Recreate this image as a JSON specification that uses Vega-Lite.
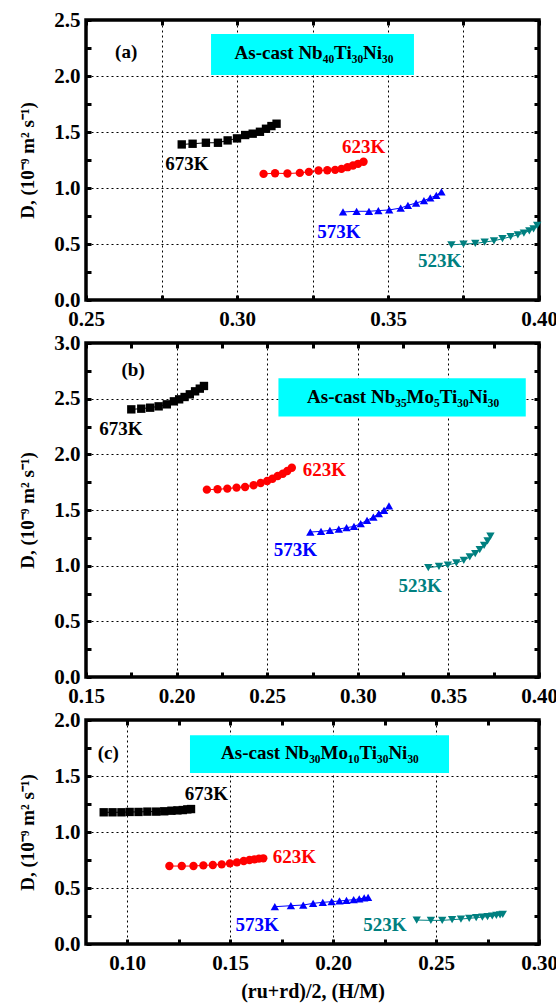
{
"$schema": "https://vega.github.io/schema/vega-lite/v6.json",
"padding": {"left": 17, "top": 7, "right": 0, "bottom": 0},
"autosize": {"type": "pad"},
"background": "white",
"config": {
  "font": "Liberation Serif",
  "view": {"stroke": "black", "strokeWidth": 3.5},
  "axis": {"domain": false, "offset": -5, "tickColor": "black", "tickWidth": 3, "tickSize": 5, "grid": false, "labelFont": "Liberation Serif", "labelFontWeight": "bold", "labelFontSize": 21, "labelColor": "black", "titleFont": "Liberation Serif", "titleFontWeight": "bold", "titleFontSize": 19, "titleColor": "black", "gridColor": "black", "gridDash": [2, 3], "gridWidth": 1, "labelOverlap": false, "labelFlush": false},
  "axisX": {"labelPadding": 8},
  "axisY": {"labelPadding": 6}
},
"datasets": {
  "a": [
    {"T":"673K","x":0.2817,"D":1.389},{"T":"673K","x":0.2853,"D":1.395},{"T":"673K","x":0.2897,"D":1.404},{"T":"673K","x":0.2937,"D":1.404},{"T":"673K","x":0.2969,"D":1.425},{"T":"673K","x":0.3000,"D":1.443},{"T":"673K","x":0.3027,"D":1.473},{"T":"673K","x":0.3052,"D":1.485},{"T":"673K","x":0.3076,"D":1.502},{"T":"673K","x":0.3096,"D":1.529},{"T":"673K","x":0.3114,"D":1.553},{"T":"673K","x":0.3131,"D":1.574},
    {"T":"623K","x":0.3088,"D":1.126},{"T":"623K","x":0.3126,"D":1.132},{"T":"623K","x":0.3167,"D":1.129},{"T":"623K","x":0.3208,"D":1.135},{"T":"623K","x":0.3238,"D":1.144},{"T":"623K","x":0.3270,"D":1.156},{"T":"623K","x":0.3299,"D":1.159},{"T":"623K","x":0.3325,"D":1.162},{"T":"623K","x":0.3346,"D":1.171},{"T":"623K","x":0.3366,"D":1.186},{"T":"623K","x":0.3384,"D":1.201},{"T":"623K","x":0.3401,"D":1.216},{"T":"623K","x":0.3419,"D":1.234},
    {"T":"573K","x":0.3351,"D":0.786},{"T":"573K","x":0.3396,"D":0.792},{"T":"573K","x":0.3437,"D":0.792},{"T":"573K","x":0.3468,"D":0.798},{"T":"573K","x":0.3504,"D":0.804},{"T":"573K","x":0.3542,"D":0.821},{"T":"573K","x":0.3566,"D":0.845},{"T":"573K","x":0.3593,"D":0.866},{"T":"573K","x":0.3619,"D":0.887},{"T":"573K","x":0.3640,"D":0.911},{"T":"573K","x":0.3660,"D":0.935},{"T":"573K","x":0.3677,"D":0.965},
    {"T":"523K","x":0.3710,"D":0.493},{"T":"523K","x":0.3750,"D":0.499},{"T":"523K","x":0.3789,"D":0.505},{"T":"523K","x":0.3820,"D":0.517},{"T":"523K","x":0.3851,"D":0.529},{"T":"523K","x":0.3879,"D":0.547},{"T":"523K","x":0.3906,"D":0.565},{"T":"523K","x":0.3930,"D":0.582},{"T":"523K","x":0.3950,"D":0.597},{"T":"523K","x":0.3968,"D":0.618},{"T":"523K","x":0.3982,"D":0.636},{"T":"523K","x":0.3994,"D":0.666}
  ],
  "a_lab": [
    {"T":"673K","x":0.2834,"D":1.21},{"T":"623K","x":0.3419,"D":1.368},{"T":"573K","x":0.3337,"D":0.606},{"T":"523K","x":0.3671,"D":0.349}
  ],
  "a_note": [{"text":"(a)","x":0.2633,"D":2.214}],
  "a_box": [{"label":"As-cast Nb₄₀Ti₃₀Ni₃₀","x":0.2914,"x2":0.3586,"D":2.375,"D2":2.009,"tx":0.3255,"ty":2.152}],
  "b": [
    {"T":"673K","x":0.1750,"D":2.404},{"T":"673K","x":0.1805,"D":2.410},{"T":"673K","x":0.1854,"D":2.419},{"T":"673K","x":0.1901,"D":2.431},{"T":"673K","x":0.1946,"D":2.449},{"T":"673K","x":0.1985,"D":2.476},{"T":"673K","x":0.2014,"D":2.494},{"T":"673K","x":0.2044,"D":2.515},{"T":"673K","x":0.2073,"D":2.539},{"T":"673K","x":0.2102,"D":2.566},{"T":"673K","x":0.2128,"D":2.590},{"T":"673K","x":0.2151,"D":2.614},
    {"T":"623K","x":0.2167,"D":1.683},{"T":"623K","x":0.2226,"D":1.686},{"T":"623K","x":0.2280,"D":1.692},{"T":"623K","x":0.2331,"D":1.701},{"T":"623K","x":0.2378,"D":1.707},{"T":"623K","x":0.2425,"D":1.722},{"T":"623K","x":0.2464,"D":1.743},{"T":"623K","x":0.2500,"D":1.761},{"T":"623K","x":0.2529,"D":1.781},{"T":"623K","x":0.2558,"D":1.805},{"T":"623K","x":0.2586,"D":1.826},{"T":"623K","x":0.2611,"D":1.850},{"T":"623K","x":0.2636,"D":1.880},
    {"T":"573K","x":0.2738,"D":1.302},{"T":"573K","x":0.2797,"D":1.308},{"T":"573K","x":0.2846,"D":1.317},{"T":"573K","x":0.2895,"D":1.329},{"T":"573K","x":0.2938,"D":1.341},{"T":"573K","x":0.2979,"D":1.353},{"T":"573K","x":0.3016,"D":1.377},{"T":"573K","x":0.3051,"D":1.407},{"T":"573K","x":0.3086,"D":1.437},{"T":"573K","x":0.3116,"D":1.467},{"T":"573K","x":0.3145,"D":1.497},{"T":"573K","x":0.3172,"D":1.536},
    {"T":"523K","x":0.3389,"D":0.982},{"T":"523K","x":0.3448,"D":0.994},{"T":"523K","x":0.3497,"D":1.006},{"T":"523K","x":0.3544,"D":1.024},{"T":"523K","x":0.3585,"D":1.048},{"T":"523K","x":0.3618,"D":1.078},{"T":"523K","x":0.3648,"D":1.108},{"T":"523K","x":0.3673,"D":1.144},{"T":"523K","x":0.3697,"D":1.183},{"T":"523K","x":0.3716,"D":1.222},{"T":"523K","x":0.3732,"D":1.266}
  ],
  "b_lab": [
    {"T":"673K","x":0.1692,"D":2.231},{"T":"623K","x":0.2816,"D":1.862},{"T":"573K","x":0.2656,"D":1.138},{"T":"523K","x":0.3344,"D":0.814}
  ],
  "b_note": [{"text":"(b)","x":0.1760,"D":2.754}],
  "b_box": [{"label":"As-cast Nb₃₅Mo₅Ti₃₀Ni₃₀","x":0.2562,"x2":0.3927,"D":2.684,"D2":2.340,"tx":0.325,"ty":2.465}],
  "c": [
    {"T":"673K","x":0.0886,"D":1.176},{"T":"673K","x":0.0929,"D":1.176},{"T":"673K","x":0.0972,"D":1.176},{"T":"673K","x":0.1012,"D":1.179},{"T":"673K","x":0.1055,"D":1.179},{"T":"673K","x":0.1098,"D":1.182},{"T":"673K","x":0.1141,"D":1.182},{"T":"673K","x":0.1180,"D":1.185},{"T":"673K","x":0.1215,"D":1.190},{"T":"673K","x":0.1244,"D":1.193},{"T":"673K","x":0.1270,"D":1.196},{"T":"673K","x":0.1292,"D":1.202},{"T":"673K","x":0.1310,"D":1.205},
    {"T":"623K","x":0.1205,"D":0.696},{"T":"623K","x":0.1265,"D":0.696},{"T":"623K","x":0.1322,"D":0.696},{"T":"623K","x":0.1370,"D":0.702},{"T":"623K","x":0.1416,"D":0.705},{"T":"623K","x":0.1459,"D":0.711},{"T":"623K","x":0.1499,"D":0.720},{"T":"623K","x":0.1533,"D":0.729},{"T":"623K","x":0.1566,"D":0.741},{"T":"623K","x":0.1594,"D":0.750},{"T":"623K","x":0.1618,"D":0.756},{"T":"623K","x":0.1640,"D":0.762},{"T":"623K","x":0.1661,"D":0.765},
    {"T":"573K","x":0.1717,"D":0.333},{"T":"573K","x":0.1795,"D":0.342},{"T":"573K","x":0.1855,"D":0.348},{"T":"573K","x":0.1903,"D":0.363},{"T":"573K","x":0.1950,"D":0.372},{"T":"573K","x":0.1993,"D":0.378},{"T":"573K","x":0.2031,"D":0.384},{"T":"573K","x":0.2065,"D":0.390},{"T":"573K","x":0.2100,"D":0.396},{"T":"573K","x":0.2127,"D":0.402},{"T":"573K","x":0.2151,"D":0.411},{"T":"573K","x":0.2170,"D":0.417},
    {"T":"523K","x":0.2406,"D":0.214},{"T":"523K","x":0.2475,"D":0.211},{"T":"523K","x":0.2530,"D":0.211},{"T":"523K","x":0.2578,"D":0.217},{"T":"523K","x":0.2621,"D":0.223},{"T":"523K","x":0.2661,"D":0.229},{"T":"523K","x":0.2695,"D":0.235},{"T":"523K","x":0.2725,"D":0.241},{"T":"523K","x":0.2750,"D":0.244},{"T":"523K","x":0.2773,"D":0.250},{"T":"523K","x":0.2793,"D":0.256},{"T":"523K","x":0.2811,"D":0.259},{"T":"523K","x":0.2824,"D":0.265}
  ],
  "c_lab": [
    {"T":"673K","x":0.1385,"D":1.336},{"T":"623K","x":0.1812,"D":0.774},{"T":"573K","x":0.1631,"D":0.170},{"T":"523K","x":0.2251,"D":0.170}
  ],
  "c_note": [{"text":"(c)","x":0.0908,"D":1.708}],
  "c_box": [{"label":"As-cast Nb₃₀Mo₁₀Ti₃₀Ni₃₀","x":0.1305,"x2":0.2563,"D":1.863,"D2":1.527,"tx":0.1936,"ty":1.655}]
},
"vconcat": [
  {
    "width": 453, "height": 280,
    "layer": [
      {
        "data": {"name": "a"}, "mark": {"type": "point", "opacity": 0},
        "encoding": {
          "x": {"field": "x", "type": "quantitative", "scale": {"domain": [0.25, 0.4], "nice": false, "zero": false},
            "axis": {"orient": "bottom", "offset": 0, "title": null, "labels": false, "ticks": false, "grid": true, "values": [0.25,0.275,0.3,0.325,0.35,0.375,0.4]}},
          "y": {"field": "D", "type": "quantitative", "scale": {"domain": [0, 2.5], "nice": false, "zero": false},
            "axis": {"orient": "left", "offset": 0, "title": null, "labels": false, "ticks": false, "grid": true, "values": [0.5,1,1.5,2]}}
        }
      },
      {
        "encoding": {
          "x": {"field": "x", "type": "quantitative", "scale": {"domain": [0.25, 0.4], "nice": false, "zero": false},
            "axis": {"orient": "bottom", "title": null, "values": [0.25,0.275,0.3,0.325,0.35,0.375,0.4],
              "labelExpr": "abs(datum.value*20-round(datum.value*20))<0.001 ? format(datum.value,'.2f') : ''"}},
          "y": {"field": "D", "type": "quantitative", "scale": {"domain": [0, 2.5], "nice": false, "zero": false},
            "axis": {"orient": "left", "title": "D, (10⁻⁹ m² s⁻¹)", "titlePadding": 16, "values": [0,0.25,0.5,0.75,1,1.25,1.5,1.75,2,2.25,2.5],
              "labelExpr": "abs(datum.value*2-round(datum.value*2))<0.001 ? format(datum.value,'.1f') : ''"}}
        },
        "layer": [
          {"data": {"name": "a_box"}, "mark": {"type": "rect", "fill": "#00FFFF"}, "encoding": {"x2": {"field": "x2"}, "y2": {"field": "D2"}}},
          {"data": {"name": "a_box"}, "mark": {"type": "text", "font": "Liberation Serif", "fontSize": 19, "fontWeight": "bold", "align": "center", "baseline": "alphabetic", "color": "black"}, "encoding": {"x": {"field": "tx", "type": "quantitative"}, "y": {"field": "ty", "type": "quantitative"}, "text": {"field": "label"}}},
          {"data": {"name": "a"}, "mark": {"type": "line", "strokeWidth": 1}, "encoding": {"color": {"field": "T", "type": "nominal", "scale": {"domain": ["673K","623K","573K","523K"], "range": ["#000000","#FF0000","#0000FF","#008080"]}, "legend": null}}},
          {"data": {"name": "a"}, "mark": {"type": "point", "filled": true, "size": 70, "opacity": 1}, "encoding": {"color": {"field": "T", "type": "nominal", "legend": null}, "shape": {"field": "T", "type": "nominal", "scale": {"domain": ["673K","623K","573K","523K"], "range": ["square","circle","triangle-up","triangle-down"]}, "legend": null}}},
          {"data": {"name": "a_lab"}, "mark": {"type": "text", "font": "Liberation Serif", "fontSize": 19, "fontWeight": "bold", "align": "center", "baseline": "middle"}, "encoding": {"text": {"field": "T"}, "color": {"field": "T", "type": "nominal", "legend": null}}},
          {"data": {"name": "a_note"}, "mark": {"type": "text", "font": "Liberation Serif", "fontSize": 19, "fontWeight": "bold", "align": "center", "baseline": "middle", "color": "black"}, "encoding": {"text": {"field": "text"}}}
        ]
      },
      {
        "data": {"name": "a"}, "mark": {"type": "point", "opacity": 0},
        "encoding": {
          "x": {"field": "x", "type": "quantitative", "scale": {"domain": [0.25, 0.4], "nice": false, "zero": false},
            "axis": {"orient": "top", "title": null, "labels": false, "values": [0.25,0.275,0.3,0.325,0.35,0.375,0.4]}},
          "y": {"field": "D", "type": "quantitative", "scale": {"domain": [0, 2.5], "nice": false, "zero": false},
            "axis": {"orient": "right", "title": null, "labels": false, "values": [0,0.25,0.5,0.75,1,1.25,1.5,1.75,2,2.25,2.5]}}
        }
      }
    ],
    "resolve": {"axis": {"x": "independent", "y": "independent"}}
  },
  {
    "width": 453, "height": 334,
    "layer": [
      {
        "data": {"name": "b"}, "mark": {"type": "point", "opacity": 0},
        "encoding": {
          "x": {"field": "x", "type": "quantitative", "scale": {"domain": [0.15, 0.4], "nice": false, "zero": false},
            "axis": {"orient": "bottom", "offset": 0, "title": null, "labels": false, "ticks": false, "grid": true, "values": [0.2,0.25,0.3,0.35]}},
          "y": {"field": "D", "type": "quantitative", "scale": {"domain": [0, 3], "nice": false, "zero": false},
            "axis": {"orient": "left", "offset": 0, "title": null, "labels": false, "ticks": false, "grid": true, "values": [0.5,1,1.5,2,2.5]}}
        }
      },
      {
        "encoding": {
          "x": {"field": "x", "type": "quantitative", "scale": {"domain": [0.15, 0.4], "nice": false, "zero": false},
            "axis": {"orient": "bottom", "title": null, "values": [0.15,0.175,0.2,0.225,0.25,0.275,0.3,0.325,0.35,0.375,0.4],
              "labelExpr": "abs(datum.value*20-round(datum.value*20))<0.001 ? format(datum.value,'.2f') : ''"}},
          "y": {"field": "D", "type": "quantitative", "scale": {"domain": [0, 3], "nice": false, "zero": false},
            "axis": {"orient": "left", "title": "D, (10⁻⁹ m² s⁻¹)", "titlePadding": 16, "values": [0,0.25,0.5,0.75,1,1.25,1.5,1.75,2,2.25,2.5,2.75,3],
              "labelExpr": "abs(datum.value*2-round(datum.value*2))<0.001 ? format(datum.value,'.1f') : ''"}}
        },
        "layer": [
          {"data": {"name": "b_box"}, "mark": {"type": "rect", "fill": "#00FFFF"}, "encoding": {"x2": {"field": "x2"}, "y2": {"field": "D2"}}},
          {"data": {"name": "b_box"}, "mark": {"type": "text", "font": "Liberation Serif", "fontSize": 19, "fontWeight": "bold", "align": "center", "baseline": "alphabetic", "color": "black"}, "encoding": {"x": {"field": "tx", "type": "quantitative"}, "y": {"field": "ty", "type": "quantitative"}, "text": {"field": "label"}}},
          {"data": {"name": "b"}, "mark": {"type": "line", "strokeWidth": 1}, "encoding": {"color": {"field": "T", "type": "nominal", "scale": {"domain": ["673K","623K","573K","523K"], "range": ["#000000","#FF0000","#0000FF","#008080"]}, "legend": null}}},
          {"data": {"name": "b"}, "mark": {"type": "point", "filled": true, "size": 70, "opacity": 1}, "encoding": {"color": {"field": "T", "type": "nominal", "legend": null}, "shape": {"field": "T", "type": "nominal", "scale": {"domain": ["673K","623K","573K","523K"], "range": ["square","circle","triangle-up","triangle-down"]}, "legend": null}}},
          {"data": {"name": "b_lab"}, "mark": {"type": "text", "font": "Liberation Serif", "fontSize": 19, "fontWeight": "bold", "align": "center", "baseline": "middle"}, "encoding": {"text": {"field": "T"}, "color": {"field": "T", "type": "nominal", "legend": null}}},
          {"data": {"name": "b_note"}, "mark": {"type": "text", "font": "Liberation Serif", "fontSize": 19, "fontWeight": "bold", "align": "center", "baseline": "middle", "color": "black"}, "encoding": {"text": {"field": "text"}}}
        ]
      },
      {
        "data": {"name": "b"}, "mark": {"type": "point", "opacity": 0},
        "encoding": {
          "x": {"field": "x", "type": "quantitative", "scale": {"domain": [0.15, 0.4], "nice": false, "zero": false},
            "axis": {"orient": "top", "title": null, "labels": false, "values": [0.15,0.175,0.2,0.225,0.25,0.275,0.3,0.325,0.35,0.375,0.4]}},
          "y": {"field": "D", "type": "quantitative", "scale": {"domain": [0, 3], "nice": false, "zero": false},
            "axis": {"orient": "right", "title": null, "labels": false, "values": [0,0.25,0.5,0.75,1,1.25,1.5,1.75,2,2.25,2.5,2.75,3]}}
        }
      }
    ],
    "resolve": {"axis": {"x": "independent", "y": "independent"}}
  },
  {
    "width": 453, "height": 224,
    "layer": [
      {
        "data": {"name": "c"}, "mark": {"type": "point", "opacity": 0},
        "encoding": {
          "x": {"field": "x", "type": "quantitative", "scale": {"domain": [0.08, 0.3], "nice": false, "zero": false},
            "axis": {"orient": "bottom", "offset": 0, "title": null, "labels": false, "ticks": false, "grid": true, "values": [0.1,0.15,0.2,0.25]}},
          "y": {"field": "D", "type": "quantitative", "scale": {"domain": [0, 2], "nice": false, "zero": false},
            "axis": {"orient": "left", "offset": 0, "title": null, "labels": false, "ticks": false, "grid": true, "values": [0.5,1,1.5]}}
        }
      },
      {
        "encoding": {
          "x": {"field": "x", "type": "quantitative", "scale": {"domain": [0.08, 0.3], "nice": false, "zero": false},
            "axis": {"orient": "bottom", "title": "(ru+rd)/2, (H/M)", "titleFontSize": 20, "titlePadding": 8, "values": [0.1,0.125,0.15,0.175,0.2,0.225,0.25,0.275,0.3],
              "labelExpr": "abs(datum.value*20-round(datum.value*20))<0.001 ? format(datum.value,'.2f') : ''"}},
          "y": {"field": "D", "type": "quantitative", "scale": {"domain": [0, 2], "nice": false, "zero": false},
            "axis": {"orient": "left", "title": "D, (10⁻⁹ m² s⁻¹)", "titlePadding": 16, "values": [0,0.25,0.5,0.75,1,1.25,1.5,1.75,2],
              "labelExpr": "abs(datum.value*2-round(datum.value*2))<0.001 ? format(datum.value,'.1f') : ''"}}
        },
        "layer": [
          {"data": {"name": "c_box"}, "mark": {"type": "rect", "fill": "#00FFFF"}, "encoding": {"x2": {"field": "x2"}, "y2": {"field": "D2"}}},
          {"data": {"name": "c_box"}, "mark": {"type": "text", "font": "Liberation Serif", "fontSize": 19, "fontWeight": "bold", "align": "center", "baseline": "alphabetic", "color": "black"}, "encoding": {"x": {"field": "tx", "type": "quantitative"}, "y": {"field": "ty", "type": "quantitative"}, "text": {"field": "label"}}},
          {"data": {"name": "c"}, "mark": {"type": "line", "strokeWidth": 1}, "encoding": {"color": {"field": "T", "type": "nominal", "scale": {"domain": ["673K","623K","573K","523K"], "range": ["#000000","#FF0000","#0000FF","#008080"]}, "legend": null}}},
          {"data": {"name": "c"}, "mark": {"type": "point", "filled": true, "size": 70, "opacity": 1}, "encoding": {"color": {"field": "T", "type": "nominal", "legend": null}, "shape": {"field": "T", "type": "nominal", "scale": {"domain": ["673K","623K","573K","523K"], "range": ["square","circle","triangle-up","triangle-down"]}, "legend": null}}},
          {"data": {"name": "c_lab"}, "mark": {"type": "text", "font": "Liberation Serif", "fontSize": 19, "fontWeight": "bold", "align": "center", "baseline": "middle"}, "encoding": {"text": {"field": "T"}, "color": {"field": "T", "type": "nominal", "legend": null}}},
          {"data": {"name": "c_note"}, "mark": {"type": "text", "font": "Liberation Serif", "fontSize": 19, "fontWeight": "bold", "align": "center", "baseline": "middle", "color": "black"}, "encoding": {"text": {"field": "text"}}}
        ]
      },
      {
        "data": {"name": "c"}, "mark": {"type": "point", "opacity": 0},
        "encoding": {
          "x": {"field": "x", "type": "quantitative", "scale": {"domain": [0.08, 0.3], "nice": false, "zero": false},
            "axis": {"orient": "top", "title": null, "labels": false, "values": [0.1,0.125,0.15,0.175,0.2,0.225,0.25,0.275,0.3]}},
          "y": {"field": "D", "type": "quantitative", "scale": {"domain": [0, 2], "nice": false, "zero": false},
            "axis": {"orient": "right", "title": null, "labels": false, "values": [0,0.25,0.5,0.75,1,1.25,1.5,1.75,2]}}
        }
      }
    ],
    "resolve": {"axis": {"x": "independent", "y": "independent"}}
  }
],
"spacing": 43,
"bounds": "flush"
}
